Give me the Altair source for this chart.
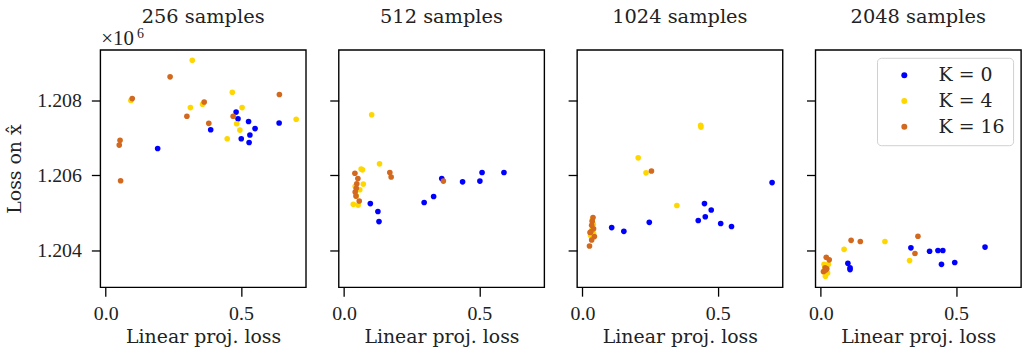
import altair as alt
import pandas as pd

FONT = "DejaVu Serif"
NUMFONT = "Liberation Serif"
samples = ["256 samples", "512 samples", "1024 samples", "2048 samples"]
k_labels = ["K = 0", "K = 4", "K = 16"]
colors = ["#0000ff", "#ffd700", "#d2691e"]

# ---- 256 samples
p1_k0_x = [0.482, 0.489, 0.528, 0.552, 0.533, 0.501, 0.530, 0.388, 0.192, 0.641]
p1_k0_y = [1.20769, 1.20751, 1.20744, 1.20725, 1.20708, 1.20698, 1.20688, 1.20722, 1.20672, 1.20740]
p1_k4_x = [0.320, 0.468, 0.504, 0.313, 0.358, 0.093, 0.484, 0.496, 0.449, 0.704]
p1_k4_y = [1.20907, 1.20822, 1.20781, 1.20781, 1.20790, 1.20800, 1.20738, 1.20721, 1.20698, 1.20750]
p1_k16_x = [0.238, 0.098, 0.364, 0.300, 0.381, 0.471, 0.642, 0.053, 0.050, 0.055]
p1_k16_y = [1.20863, 1.20805, 1.20796, 1.20758, 1.20739, 1.20758, 1.20816, 1.20694, 1.20681, 1.20586]

# ---- 512 samples
p2_k0_x = [0.097, 0.125, 0.129, 0.296, 0.331, 0.361, 0.438, 0.502, 0.510, 0.591]
p2_k0_y = [1.20525, 1.20504, 1.20477, 1.20528, 1.20544, 1.20592, 1.20583, 1.20585, 1.20608, 1.20608]
p2_k4_x = [0.102, 0.131, 0.063, 0.068, 0.071, 0.058, 0.041, 0.034, 0.052, 0.045]
p2_k4_y = [1.20762, 1.20631, 1.20617, 1.20615, 1.20577, 1.20562, 1.20571, 1.20523, 1.20521, 1.20545]
p2_k16_x = [0.040, 0.051, 0.047, 0.041, 0.044, 0.056, 0.169, 0.174, 0.367, 0.045]
p2_k16_y = [1.20606, 1.20592, 1.20578, 1.20556, 1.20545, 1.20532, 1.20608, 1.20596, 1.20585, 1.20566]

# ---- 1024 samples
p3_k0_x = [0.108, 0.153, 0.247, 0.428, 0.451, 0.476, 0.454, 0.511, 0.551, 0.701]
p3_k0_y = [1.20461, 1.20451, 1.20475, 1.20480, 1.20525, 1.20508, 1.20490, 1.20472, 1.20464, 1.20581]
p3_k4_x = [0.437, 0.438, 0.206, 0.235, 0.349, 0.036, 0.040, 0.035, 0.041, 0.030]
p3_k4_y = [1.20734, 1.20729, 1.20647, 1.20607, 1.20520, 1.20481, 1.20470, 1.20455, 1.20445, 1.20440]
p3_k16_x = [0.255, 0.039, 0.034, 0.041, 0.028, 0.044, 0.034, 0.026, 0.036, 0.031]
p3_k16_y = [1.20612, 1.20488, 1.20467, 1.20458, 1.20448, 1.20437, 1.20428, 1.20412, 1.20478, 1.20450]

# ---- 2048 samples
p4_k0_x = [0.333, 0.402, 0.433, 0.451, 0.446, 0.495, 0.607, 0.100, 0.108, 0.108]
p4_k0_y = [1.20407, 1.20398, 1.20400, 1.20400, 1.20363, 1.20368, 1.20409, 1.20366, 1.20354, 1.20349]
p4_k4_x = [0.086, 0.237, 0.328, 0.012, 0.028, 0.017, 0.010, 0.020, 0.015, 0.025]
p4_k4_y = [1.20403, 1.20424, 1.20373, 1.20363, 1.20363, 1.20331, 1.20343, 1.20350, 1.20356, 1.20340]
p4_k16_x = [0.112, 0.146, 0.359, 0.348, 0.020, 0.031, 0.016, 0.022, 0.010, 0.018]
p4_k16_y = [1.20427, 1.20424, 1.20438, 1.20392, 1.20382, 1.20375, 1.20354, 1.20351, 1.20344, 1.20348]

x_ticks = [0.0, 0.5]
y_ticks = [1.204, 1.206, 1.208]
offset_base = "×10"
offset_exp = "6"

panels = [
    [(p1_k0_x, p1_k0_y), (p1_k4_x, p1_k4_y), (p1_k16_x, p1_k16_y)],
    [(p2_k0_x, p2_k0_y), (p2_k4_x, p2_k4_y), (p2_k16_x, p2_k16_y)],
    [(p3_k0_x, p3_k0_y), (p3_k4_x, p3_k4_y), (p3_k16_x, p3_k16_y)],
    [(p4_k0_x, p4_k0_y), (p4_k4_x, p4_k4_y), (p4_k16_x, p4_k16_y)],
]

W, H = 207, 239
xscale = alt.Scale(domain=[-0.02, 0.74], nice=False, zero=False)
yscale = alt.Scale(domain=[1.20302, 1.20935], nice=False, zero=False)
cscale = alt.Scale(domain=k_labels, range=colors)

charts = []
for i, (title, series) in enumerate(zip(samples, panels)):
    rows = []
    for k, (xs, ys) in zip(k_labels, series):
        for x, y in zip(xs, ys):
            rows.append({"x": x, "y": y, "K": k})
    df = pd.DataFrame(rows)
    first = i == 0
    last = i == 3
    yaxis = alt.Axis(
        values=y_ticks, format=".3f", labels=first,
        title="Loss on x̂" if first else None,
    )
    legend = (
        alt.Legend(title=None, orient="top-right", offset=8, fillColor="white",
                   strokeColor="#d0d0d0", cornerRadius=4, padding=8,
                   labelFont=FONT, labelFontSize=19, labelColor="#222222",
                   symbolType="circle", symbolSize=36, labelOffset=25,
                   symbolOffset=10, rowPadding=6, labelLimit=200)
        if last else None
    )
    pts = alt.Chart(df).mark_circle(size=32, opacity=1).encode(
        x=alt.X("x:Q", scale=xscale,
                axis=alt.Axis(values=x_ticks, format=".1f", title="Linear proj. loss")),
        y=alt.Y("y:Q", scale=yscale, axis=yaxis),
        color=alt.Color("K:N", scale=cscale, legend=legend, sort=k_labels),
    )
    # the ×10^6 offset label; drawn invisibly on the other panels so all titles align
    op = 1 if first else 0
    mult = alt.Chart(pd.DataFrame({"t": [offset_base]})).mark_text(
        align="left", baseline="alphabetic", font=NUMFONT, fontSize=21,
        color="#222222", opacity=op,
    ).encode(x=alt.value(1), y=alt.value(-5), text="t:N")
    expo = alt.Chart(pd.DataFrame({"t": [offset_exp]})).mark_text(
        align="left", baseline="alphabetic", font=NUMFONT, fontSize=14,
        color="#222222", opacity=op,
    ).encode(x=alt.value(37), y=alt.value(-12), text="t:N")
    ch = alt.layer(pts, mult, expo).properties(
        width=W, height=H,
        title=alt.TitleParams(title, fontSize=19.5, font=FONT, frame="group",
                              fontWeight="normal", offset=0, color="#222222"))
    charts.append(ch)

chart = alt.hconcat(*charts, spacing=21).resolve_scale(
    y="shared", x="independent"
).resolve_legend(color="independent").configure_view(
    stroke="black", strokeWidth=1.4
).configure_axis(
    grid=False, domain=False, ticks=True, tickColor="black", tickSize=9, tickWidth=1.3,
    labelFont=NUMFONT, labelFontSize=20, labelColor="#222222",
    titleFont=FONT, titleFontSize=19, titleFontWeight="normal", titleColor="#222222",
).configure_axisY(titlePadding=12, labelPadding=10).configure_axisX(
    titlePadding=5, labelPadding=7
).properties(
    padding={"left": 5, "top": 4, "right": 1, "bottom": 0}
)

chart.save("out.html", embed_options={"renderer": "svg", "actions": False})
